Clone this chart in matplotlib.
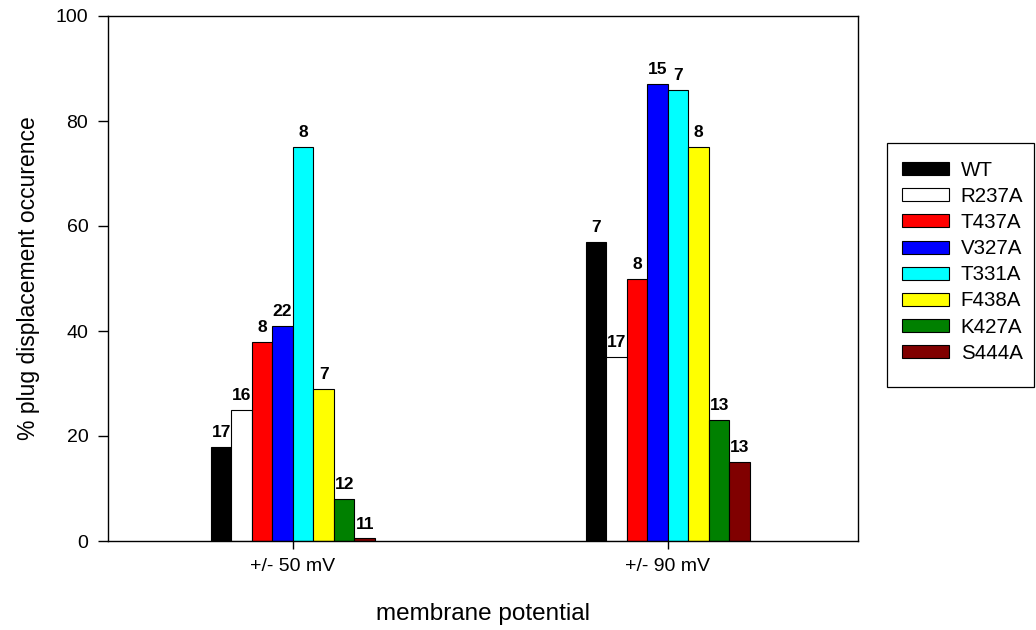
import matplotlib
matplotlib.use("Agg")
import matplotlib.pyplot as plt
from matplotlib.patches import Rectangle
import numpy as np

plt.rcParams['font.family'] = ['Liberation Sans', 'DejaVu Sans']

categories = ["+/- 50 mV", "+/- 90 mV"]
mutants = ["WT", "R237A", "T437A", "V327A", "T331A", "F438A", "K427A", "S444A"]
colors = ["#000000", "#ffffff", "#ff0000", "#0000ff", "#00ffff", "#ffff00", "#008000", "#800000"]
values_50 = [18, 25, 38, 41, 75, 29, 8, 0.5]
values_90 = [57, 35, 50, 87, 86, 75, 23, 15]
n_50 = [17, 16, 8, 22, 8, 7, 12, 11]
n_90 = [7, 17, 8, 15, 7, 8, 13, 13]

W, H = 1036, 630
fig = plt.figure(figsize=(W / 100, H / 100), dpi=100)
ax = fig.add_axes([108 / W, (H - 541) / H, 750 / W, 525 / H])

x = np.arange(len(categories))
w = 0.0547
nb = len(mutants)
for i, (m, c) in enumerate(zip(mutants, colors)):
    vals = [values_50[i], values_90[i]]
    ns = [n_50[i], n_90[i]]
    pos = x + (i - (nb - 1) / 2) * w
    ax.bar(pos, vals, width=w, color=c, edgecolor="black", linewidth=0.8, label=m)
    for p, v, n in zip(pos, vals, ns):
        ax.text(p, v + 1.3, str(n), ha="center", va="bottom", fontsize=12.5, fontweight="bold")

ax.set_xlim(-0.493, 1.507)
ax.set_ylim(0, 100)
ax.set_yticks([0, 20, 40, 60, 80, 100])
ax.set_xticks(x)
ax.set_xticklabels(categories)
ax.tick_params(axis="y", direction="out", labelsize=14, length=7.2, width=1, pad=7)
ax.tick_params(axis="x", direction="out", labelsize=14, length=6, width=1, pad=6)
ax.tick_params(top=False, right=False)
ax.set_ylabel("% plug displacement occurence", fontsize=16.5)
ax.yaxis.set_label_coords(-0.091, 0.5)
ax.set_xlabel("membrane potential", fontsize=17.5, va="top")
ax.xaxis.set_label_coords(0.5, -0.118)
for s in ax.spines.values():
    s.set_linewidth(1)

fig.add_artist(Rectangle((887 / W, (H - 387) / H), 147 / W, 244 / H, transform=fig.transFigure,
                         fill=False, edgecolor="black", linewidth=0.9))
leg = fig.legend(loc="upper left", bbox_to_anchor=(902 / W, 1 - 161 / H), fontsize=14.8,
                 frameon=False, handlelength=2.3, handleheight=0.6, labelspacing=0.345,
                 borderpad=0, handletextpad=0.55, borderaxespad=0)

fig.savefig("out.png", dpi=100)
